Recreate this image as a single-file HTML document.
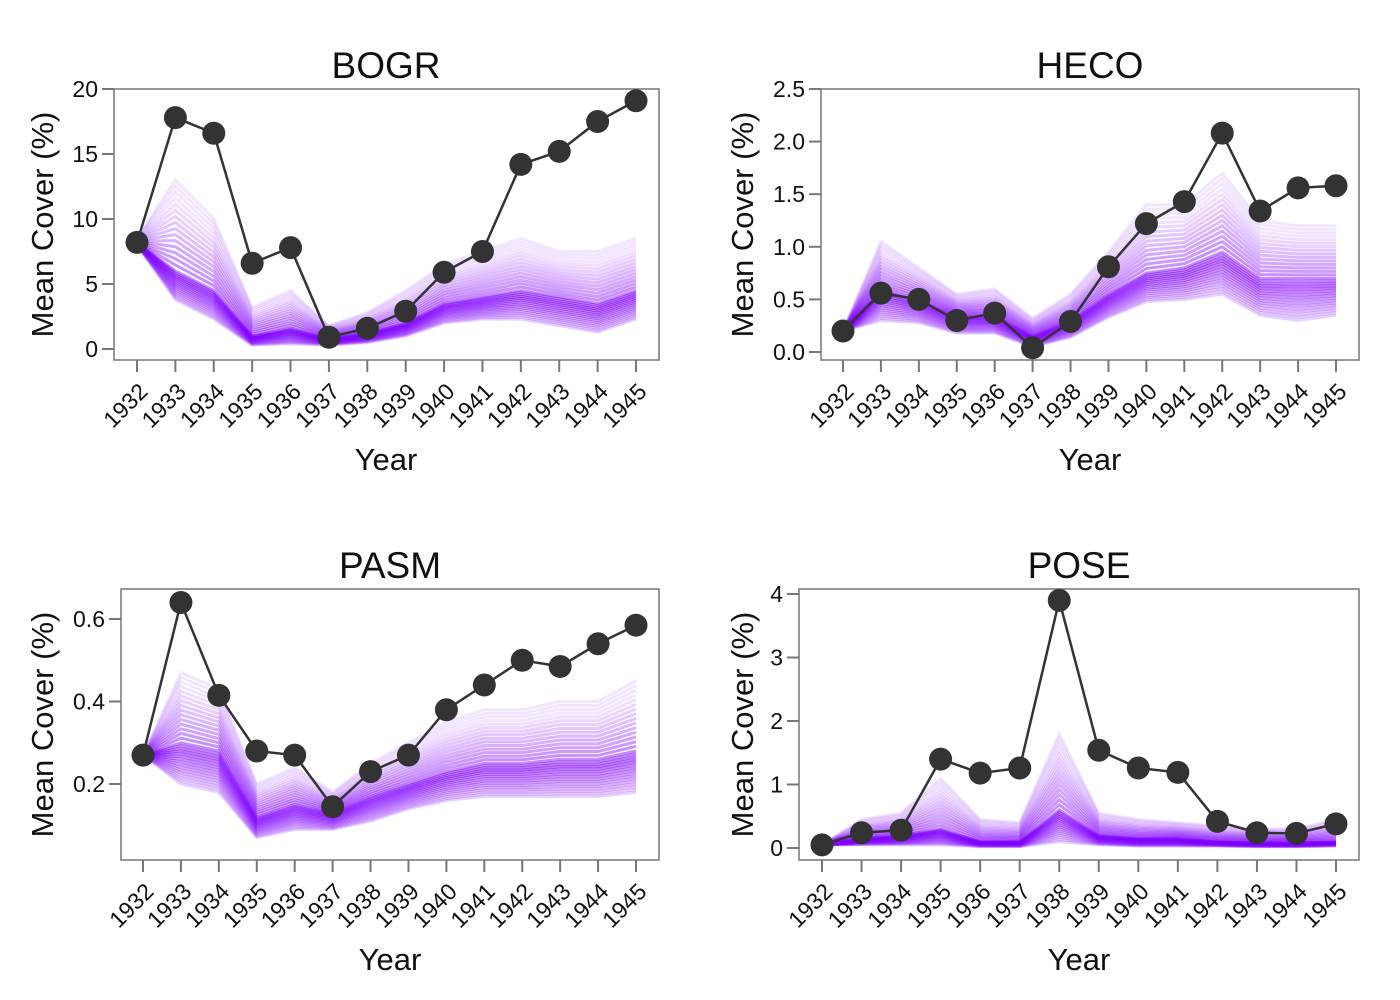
<!DOCTYPE html>
<html><head><meta charset="utf-8"><style>
body{margin:0;background:#fff}
svg{display:block;font-family:"Liberation Sans",Arial,sans-serif}
</style></head><body>
<svg id="chart" width="1400" height="1000" viewBox="0 0 1400 1000"></svg>
<script>
const years=[1932,1933,1934,1935,1936,1937,1938,1939,1940,1941,1942,1943,1944,1945];
const panelNames=["BOGR","HECO","PASM","POSE"];
const obsBOGR=[8.2,17.8,16.6,6.6,7.8,0.9,1.6,2.9,5.9,7.5,14.2,15.2,17.5,19.1];
const lowBOGR=[8.0,3.8,2.3,0.3,0.4,0.3,0.5,1.0,2.0,2.3,2.3,1.8,1.3,2.3];
const midBOGR=[8.2,6.0,4.5,1.0,1.6,0.8,1.2,2.0,3.5,4.0,4.5,4.0,3.5,4.5];
const highBOGR=[8.5,13.0,10.0,3.2,4.5,1.8,2.8,4.5,6.5,7.5,8.5,7.5,7.5,8.5];
const obsHECO=[0.2,0.56,0.5,0.3,0.37,0.04,0.29,0.81,1.22,1.43,2.08,1.34,1.56,1.58];
const lowHECO=[0.2,0.3,0.28,0.18,0.18,0.05,0.14,0.33,0.48,0.5,0.55,0.35,0.3,0.35];
const midHECO=[0.2,0.6,0.5,0.35,0.35,0.15,0.3,0.55,0.75,0.8,0.95,0.7,0.7,0.7];
const highHECO=[0.2,1.05,0.8,0.55,0.6,0.32,0.55,0.95,1.4,1.4,1.7,1.25,1.2,1.2];
const obsPASM=[0.27,0.64,0.415,0.28,0.27,0.145,0.23,0.27,0.38,0.44,0.5,0.485,0.54,0.585];
const lowPASM=[0.27,0.2,0.18,0.07,0.09,0.09,0.11,0.14,0.16,0.17,0.17,0.17,0.17,0.18];
const midPASM=[0.27,0.3,0.28,0.12,0.15,0.13,0.17,0.2,0.23,0.25,0.25,0.26,0.26,0.28];
const highPASM=[0.27,0.47,0.43,0.2,0.24,0.18,0.25,0.3,0.35,0.38,0.38,0.4,0.4,0.45];
const obsPOSE=[0.05,0.24,0.28,1.4,1.18,1.26,3.9,1.54,1.26,1.19,0.42,0.24,0.23,0.38];
const lowPOSE=[0.05,0.05,0.05,0.05,0.02,0.02,0.1,0.05,0.03,0.03,0.03,0.02,0.02,0.03];
const midPOSE=[0.05,0.15,0.2,0.3,0.1,0.1,0.6,0.2,0.15,0.15,0.1,0.08,0.08,0.1];
const highPOSE=[0.05,0.45,0.55,1.1,0.45,0.4,1.8,0.55,0.45,0.4,0.35,0.3,0.3,0.45];
const ticksBOGR=[0,5,10,15,20], tickLabBOGR=["0","5","10","15","20"];
const ticksHECO=[0,0.5,1,1.5,2,2.5], tickLabHECO=["0.0","0.5","1.0","1.5","2.0","2.5"];
const ticksPASM=[0.2,0.4,0.6], tickLabPASM=["0.2","0.4","0.6"];
const ticksPOSE=[0,1,2,3,4], tickLabPOSE=["0","1","2","3","4"];

const panels=[
 {name:"BOGR",obs:obsBOGR,lo:lowBOGR,mid:midBOGR,hi:highBOGR,ticks:ticksBOGR,labs:tickLabBOGR,box:[114,89,659,360],x0:137,x1:636,yv:[0,20],yp:[349,89],tx:386,ylx:53},
 {name:"HECO",obs:obsHECO,lo:lowHECO,mid:midHECO,hi:highHECO,ticks:ticksHECO,labs:tickLabHECO,box:[821,89,1359,360],x0:843,x1:1336,yv:[0,2.5],yp:[352,89],tx:1090,ylx:753},
 {name:"PASM",obs:obsPASM,lo:lowPASM,mid:midPASM,hi:highPASM,ticks:ticksPASM,labs:tickLabPASM,box:[121,589,659,860],x0:143,x1:636,yv:[0.2,0.6],yp:[784,619],tx:390,ylx:53},
 {name:"POSE",obs:obsPOSE,lo:lowPOSE,mid:midPOSE,hi:highPOSE,ticks:ticksPOSE,labs:tickLabPOSE,box:[799,589,1359,860],x0:822,x1:1336,yv:[0,4],yp:[848,594],tx:1079,ylx:753}
];
const NS="http://www.w3.org/2000/svg";
const svg=document.getElementById('chart');
function mk(tag,attrs,parent){const e=document.createElementNS(NS,tag);for(const k in attrs)e.setAttribute(k,attrs[k]);(parent||svg).appendChild(e);return e;}
panels.forEach(p=>{
  const g=mk('g',{});
  
  
  const [L,T,R,B]=p.box;
  const xs=i=>p.x0+(p.x1-p.x0)*i/(years.length-1);
  const ys=v=>p.yp[0]+(v-p.yv[0])*(p.yp[1]-p.yp[0])/(p.yv[1]-p.yv[0]);
  const fr=mk('rect',{x:L,y:T,width:R-L,height:B-T,fill:'#fff',stroke:'#777','stroke-width':1.5},g);
  
  
  const sg=mk('g',{},g);
  
  
  const N=30;
  for(let k=0;k<=N;k++){
    const t=k/N;
    const pts=years.map((y,i)=>{
      const v=t<0.5? p.lo[i]+(p.mid[i]-p.lo[i])*(t/0.5) : p.mid[i]+(p.hi[i]-p.mid[i])*((t-0.5)/0.5);
      return xs(i)+','+ys(v);
    }).join(' ');
    const w=Math.max(0,1-Math.abs(t-0.4)*2);
    const op=0.1+0.45*w;
    const pl=mk('polyline',{points:pts,fill:'none',stroke:'#8000ff','stroke-opacity':op.toFixed(3),'stroke-width':3},sg);
    
    
  }
  const ln=mk('polyline',{points:p.obs.map((v,i)=>xs(i)+','+ys(v)).join(' '),fill:'none',stroke:'#333','stroke-width':2.5},g);
  
  
  p.obs.forEach((v,i)=>{
    const c=mk('circle',{cx:xs(i),cy:ys(v),r:11.5,fill:'#333'},g);
    
    
  });
  p.ticks.forEach((v,i)=>{
    const y=ys(v);
    const tl=mk('line',{x1:L-12,x2:L,y1:y,y2:y,stroke:'#777','stroke-width':2},g);
    
    
    const tt=mk('text',{x:L-16,y:y+8,'text-anchor':'end','font-size':23,fill:'#111'},g);
    tt.textContent=p.labs[i];
    
    
  });
  years.forEach((yr,i)=>{
    const x=xs(i);
    const tl=mk('line',{x1:x,x2:x,y1:B,y2:B+12,stroke:'#777','stroke-width':2},g);
    
    
    const tt=mk('text',{x:x+12,y:B+33,'text-anchor':'end','font-size':23,fill:'#111',transform:`rotate(-45 ${x+12} ${B+33})`},g);
    tt.textContent=yr;
    
    
  });
  const ti=mk('text',{x:p.tx,y:T-11,'text-anchor':'middle','font-size':37,fill:'#111'},g);
  ti.textContent=p.name;
  
  
  const xt=mk('text',{x:p.tx,y:B+110,'text-anchor':'middle','font-size':31,fill:'#111'},g);
  xt.textContent='Year';
  
  
  const cy=(T+B)/2;
  const yt=mk('text',{x:p.ylx,y:cy,'text-anchor':'middle','font-size':31,fill:'#111',transform:`rotate(-90 ${p.ylx} ${cy})`},g);
  yt.textContent='Mean Cover (%)';
  
  
});
</script>
</body></html>
